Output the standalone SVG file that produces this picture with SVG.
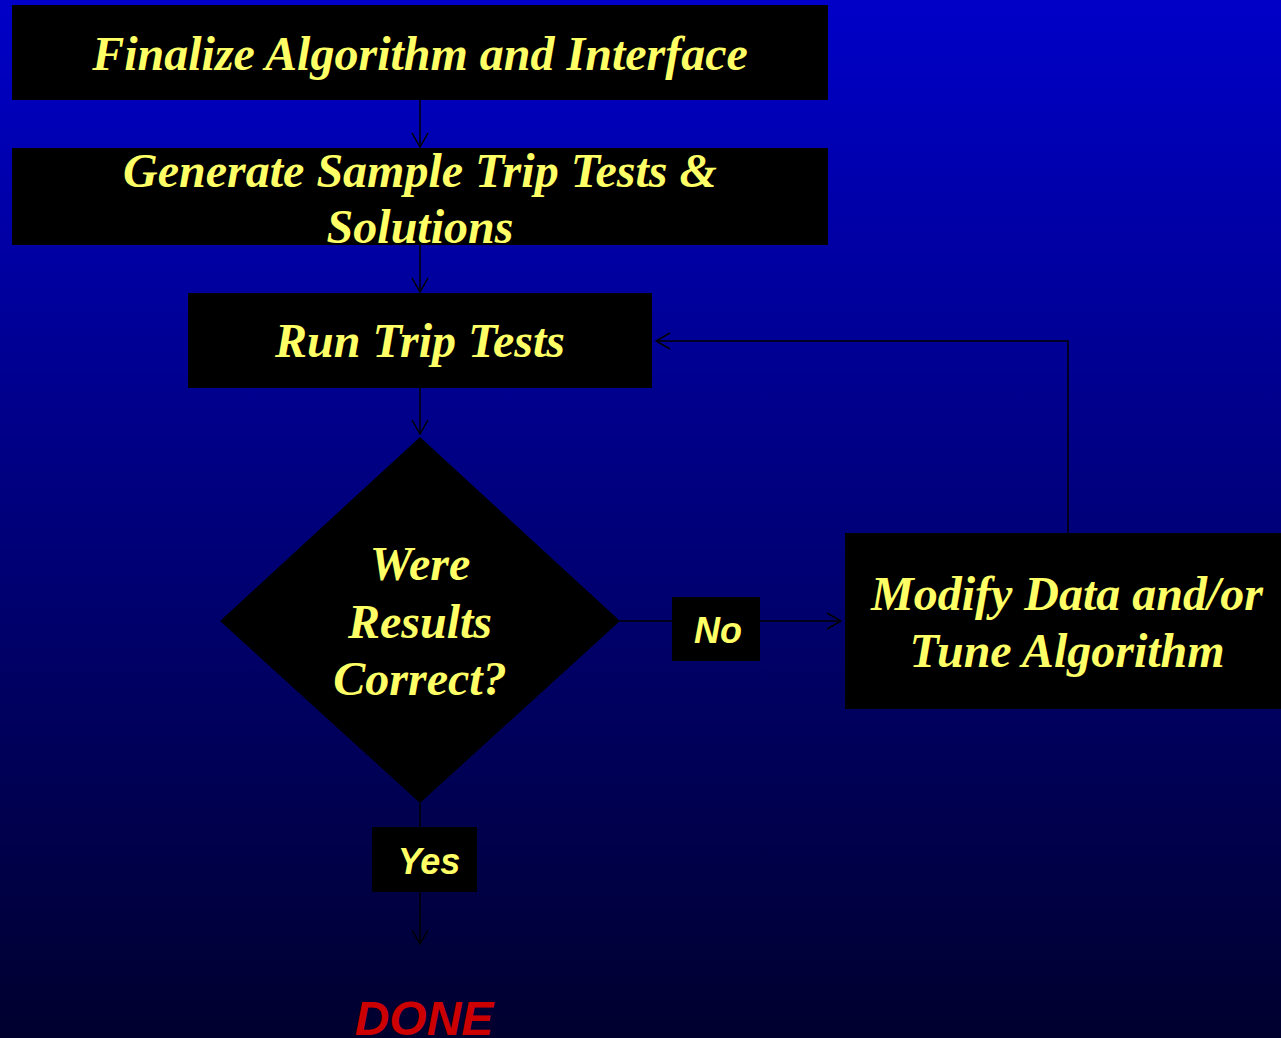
<svg xmlns="http://www.w3.org/2000/svg" width="1281" height="1038" viewBox="0 0 1281 1038">
<defs>
<linearGradient id="bg" x1="0" y1="0" x2="0" y2="1">
<stop offset="0" stop-color="#0000C8"/>
<stop offset="1" stop-color="#00002E"/>
</linearGradient>
<marker id="arr" markerWidth="16" markerHeight="18" refX="15" refY="9" orient="auto" markerUnits="userSpaceOnUse">
<path d="M1,1 L15,9 L1,17" fill="none" stroke="#000" stroke-width="1.5"/>
</marker>
<style>
.box{fill:#000}
.t{font-family:"Liberation Serif","Times New Roman",serif;font-weight:bold;font-style:italic;font-size:48px;fill:#FFFF66;text-anchor:middle}
.s{font-family:"Liberation Sans",Arial,sans-serif;font-weight:bold;font-style:italic;font-size:36px;fill:#FFFF66;text-anchor:middle}
.c{fill:none;stroke:#000;stroke-width:1.5}
</style>
</defs>
<rect width="1281" height="1038" fill="url(#bg)"/>
<g id="connectors">
<line class="c" x1="420" y1="100" x2="420" y2="147" marker-end="url(#arr)"/>
<line class="c" x1="420" y1="245" x2="420" y2="292" marker-end="url(#arr)"/>
<line class="c" x1="420" y1="388" x2="420" y2="434" marker-end="url(#arr)"/>
<line class="c" x1="620" y1="621" x2="841" y2="621" marker-end="url(#arr)"/>
<polyline class="c" points="1068,533 1068,341 656,341" marker-end="url(#arr)"/>
<line class="c" x1="420" y1="803" x2="420" y2="944" marker-end="url(#arr)"/>
</g>
<g id="finalize">
<rect class="box" x="12" y="5" width="816" height="95"/>
<text class="t" x="420" y="70">Finalize Algorithm and Interface</text>
</g>
<g id="generate">
<rect class="box" x="12" y="148" width="816" height="97"/>
<text class="t" x="420" y="187">Generate Sample Trip Tests &amp;</text>
<text class="t" x="420" y="243">Solutions</text>
</g>
<g id="run">
<rect class="box" x="188" y="293" width="464" height="95"/>
<text class="t" x="420" y="357">Run Trip Tests</text>
</g>
<g id="decision">
<polygon class="box" points="420,437 620,621 420,803 220,621"/>
<text class="t" x="420" y="580">Were</text>
<text class="t" x="420" y="638">Results</text>
<text class="t" x="420" y="695">Correct?</text>
</g>
<g id="no">
<rect class="box" x="672" y="597" width="88" height="64"/>
<text class="s" x="718" y="643">No</text>
</g>
<g id="modify">
<rect class="box" x="845" y="533" width="436" height="176"/>
<text class="t" x="1067" y="610">Modify Data and/or</text>
<text class="t" x="1067" y="667">Tune Algorithm</text>
</g>
<g id="yes">
<rect class="box" x="372" y="827" width="105" height="65"/>
<text class="s" x="429" y="874">Yes</text>
</g>
<g id="done">
<text x="424" y="1035" font-family="'Liberation Sans',Arial,sans-serif" font-weight="bold" font-style="italic" font-size="48" fill="#CC0000" text-anchor="middle">DONE</text>
</g>
</svg>
